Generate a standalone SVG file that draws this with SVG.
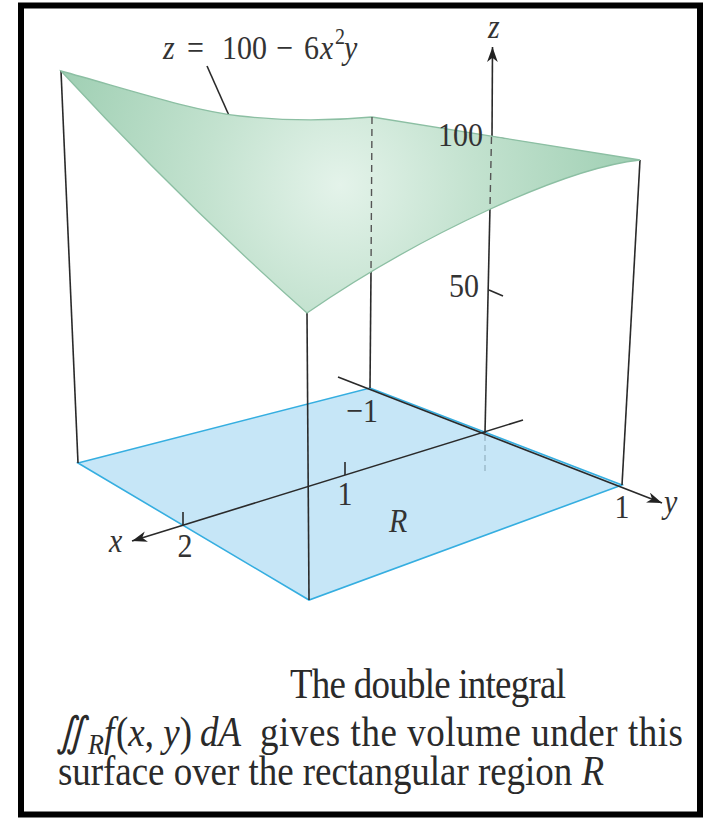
<svg xmlns="http://www.w3.org/2000/svg" width="713" height="819" viewBox="0 0 713 819">
  <defs>
    <radialGradient id="surfGrad" cx="340" cy="185" r="300" gradientUnits="userSpaceOnUse">
      <stop offset="0" stop-color="#e4f3ea"/>
      <stop offset="0.45" stop-color="#c3e2cf"/>
      <stop offset="1" stop-color="#9fcfb3"/>
    </radialGradient>
    <marker id="arrow" viewBox="0 0 14 10" refX="14" refY="5" markerWidth="15" markerHeight="11" markerUnits="userSpaceOnUse" orient="auto">
      <path d="M0,0 L14,5 L0,10 L4,5 z" fill="#222"/>
    </marker>
    <style>
      .ax { stroke: #2a2a2a; stroke-width: 1.6; fill: none; }
      .dash { stroke: #555; stroke-width: 1.4; fill: none; stroke-dasharray: 7 5; }
      .lbl { font-family: "Liberation Serif", "Times New Roman", serif; font-size: 30px; fill: #333; }
      .it { font-style: italic; }
      .cap { font-family: "Liberation Serif", "Times New Roman", serif; font-size: 37px; fill: #2a2a2a; }
    </style>
  </defs>

  <rect id="frame" x="21" y="5.5" width="679" height="809" fill="#ffffff" stroke="#000" stroke-width="6"/>

  <g id="region-R">
    <polygon points="78,463 370,388 622,485 309,600" fill="#c6e6f7" stroke="#35aee0" stroke-width="1.6"/>
  </g>

  <g id="connectors">
    <line class="ax" x1="61" y1="71" x2="78" y2="463"/>
    <line class="ax" x1="307" y1="313" x2="309" y2="600"/>
    <line class="ax" x1="640" y1="160" x2="622" y2="485"/>
    <line class="ax" x1="371" y1="272" x2="370" y2="388"/>
    <line class="ax" x1="492" y1="137" x2="492.5" y2="47" marker-end="url(#arrow)"/>
    <line class="ax" x1="490" y1="207" x2="485" y2="433"/>
    <line x1="485" y1="435" x2="485" y2="474" stroke="#9ab8c8" stroke-width="1.4" stroke-dasharray="6 4"/>
    <line class="ax" x1="523" y1="420" x2="132" y2="541" marker-end="url(#arrow)"/>
    <line class="ax" x1="338" y1="377" x2="662" y2="503" marker-end="url(#arrow)"/>
    <line class="ax" x1="345" y1="462" x2="345" y2="475"/>
    <line class="ax" x1="183" y1="512" x2="183" y2="525"/>
    <line class="ax" x1="491" y1="137" x2="506" y2="139"/>
    <line class="ax" x1="489" y1="290" x2="503" y2="296"/>
    <line class="ax" x1="207" y1="66" x2="243" y2="147"/>
  </g>

  <g id="surface">
    <path d="M61,71 C130,90 190,110 240,116 C285,121 330,121 372,117 L640,160 C565,168 420,235 307,313 Q180,200 61,71 Z" fill="url(#surfGrad)" stroke="#8cbfa3" stroke-width="1.3"/>
  </g>

  <g id="hidden-lines">
    <line class="dash" x1="372" y1="117" x2="371" y2="272"/>
    <line class="dash" x1="491.5" y1="137" x2="490" y2="207"/>
  </g>

  <g id="labels">
    <text class="lbl" transform="matrix(1 0 0 1.15 0 59)" y="0" font-size="31"><tspan class="it" x="163">z</tspan><tspan x="187">=</tspan><tspan x="222">100</tspan><tspan x="276">−</tspan><tspan x="304">6</tspan><tspan class="it" x="320">x</tspan><tspan x="335" y="-13" font-size="20">2</tspan><tspan class="it" x="344" y="0">y</tspan></text>
    <text class="lbl it" transform="matrix(1 0 0 1.15 488 38)">z</text>
    <text class="lbl" transform="matrix(1 0 0 1.15 483 146)" text-anchor="end">100</text>
    <text class="lbl" transform="matrix(1 0 0 1.15 479 297)" text-anchor="end">50</text>
    <text class="lbl" transform="matrix(1 0 0 1.15 346 422)">−1</text>
    <text class="lbl" transform="matrix(1 0 0 1.15 345 505)" text-anchor="middle">1</text>
    <text class="lbl" transform="matrix(1 0 0 1.15 185 557)" text-anchor="middle">2</text>
    <text class="lbl it" transform="matrix(1 0 0 1.15 109 552)">x</text>
    <text class="lbl" transform="matrix(1 0 0 1.15 622 518)" text-anchor="middle">1</text>
    <text class="lbl it" transform="matrix(1 0 0 1.15 664 513)">y</text>
    <text class="lbl it" transform="matrix(1 0 0 1.15 389 532)">R</text>
  </g>

  <g id="caption">
    <text class="cap" transform="matrix(1 0 0 1.12 0 698)" x="290" textLength="276" lengthAdjust="spacing">The double integral</text>
    <text class="cap" transform="matrix(1 0 0 1.12 0 746)"><tspan x="56" font-style="italic">∬</tspan><tspan class="it" x="88" y="7" font-size="26">R</tspan><tspan class="it" x="104" y="0">f</tspan><tspan x="116">(</tspan><tspan class="it">x</tspan><tspan>, </tspan><tspan class="it">y</tspan><tspan>)</tspan><tspan class="it" x="200">dA</tspan></text>
    <text class="cap" transform="matrix(1 0 0 1.12 0 746)" x="260" textLength="423" lengthAdjust="spacing">gives the volume under this</text>
    <text class="cap" transform="matrix(1 0 0 1.12 0 785)" x="58" textLength="546" lengthAdjust="spacing">surface over the rectangular region <tspan font-style="italic">R</tspan></text>
  </g>
</svg>
